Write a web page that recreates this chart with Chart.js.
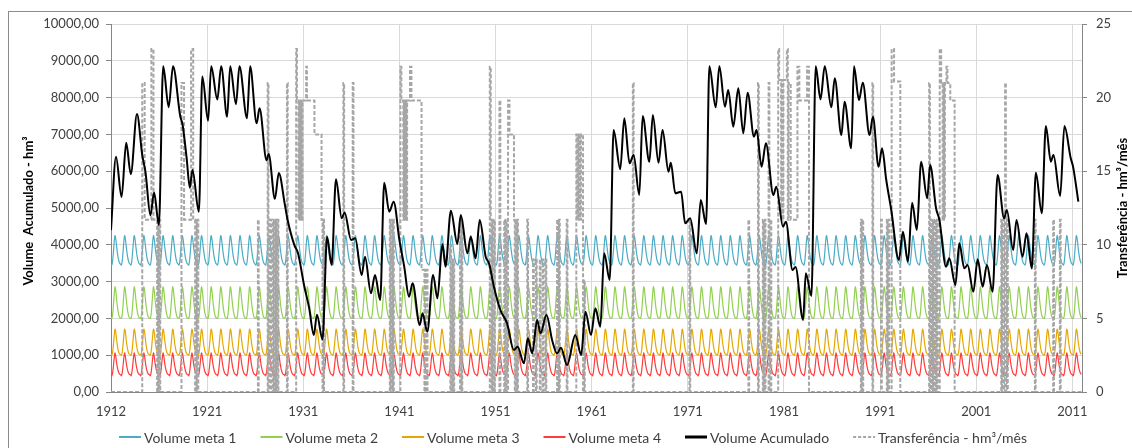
<!DOCTYPE html>
<html>
<head>
<meta charset="utf-8">
<script src="https://cdn.jsdelivr.net/npm/chart.js@4.4.1/dist/chart.umd.min.js"></script>
<style>
  html, body { margin: 0; padding: 0; background: #fff; }
  canvas { display: block; }
</style>
</head>
<body>
<canvas id="chart" width="1132" height="448"></canvas>
<script>
// ---- Axis labels (x = years counted from the start of the record) ----
const yearLabels   = ['1912', '1921', '1931', '1941', '1951', '1961', '1971', '1981', '1991', '2001', '2011'];
const yearTickPos  = [0, 10, 20, 30, 40, 50, 60, 70, 80, 90, 100];
const recordMonths = 1212;

// ---- Target volumes (hm³), one value per month of the hydrological year ----
const meta1Month = [3470, 3450, 3560, 3800, 4080, 4250, 4150, 3960, 3780, 3640, 3550, 3490];
const meta2Month = [2010, 2000, 2100, 2350, 2650, 2860, 2750, 2520, 2320, 2170, 2070, 2020];
const meta3Month = [1020, 1000, 1080, 1280, 1530, 1710, 1620, 1420, 1250, 1130, 1060, 1030];
const meta4Month = [470, 440, 520, 700, 920, 1060, 960, 790, 660, 570, 510, 480];

// ---- Accumulated volume (hm³) ----
const accYears = [
  0.0, 0.52, 1.1, 1.58, 2.06, 2.7, 3.25, 3.6, 4.1, 4.48, 4.98, 5.43, 6.0, 6.45, 7.2, 7.45, 7.87, 8.2, 8.47, 9.14,
  9.5, 10.1, 10.42, 11.06, 11.46, 12.08, 12.4, 13.0, 13.36, 14.15, 14.47, 15.15, 15.45, 16.18, 16.4, 17.05, 17.45, 18.08, 18.35, 19.1,
  19.45, 20.1, 20.6, 21.1, 21.42, 22.0, 22.48, 22.95, 23.4, 24.0, 24.3, 24.97, 25.4, 26.07, 26.42, 27.04, 27.46, 28.0, 28.42, 28.94,
  29.4, 30.0, 30.5, 31.0, 31.37, 32.12, 32.4, 32.9, 33.5, 33.95, 34.47, 34.8, 35.35, 36.03, 36.38, 37.07, 37.42, 37.93, 38.35, 38.97,
  39.32, 39.83, 40.5, 41.2, 41.9, 42.3, 42.95, 43.36, 43.81, 44.33, 44.67, 45.3, 45.88, 46.4, 46.8, 47.44, 48.3, 48.9, 49.35, 49.93,
  50.38, 50.9, 51.3, 51.87, 52.28, 52.97, 53.39, 53.94, 54.36, 54.95, 55.3, 56.0, 56.36, 56.95, 57.37, 57.99, 58.23, 58.7, 59.3, 59.72,
  60.24, 60.93, 61.34, 61.9, 62.24, 62.9, 63.28, 63.86, 64.2, 64.73, 65.25, 65.77, 66.22, 66.88, 67.15, 67.67, 68.12, 68.9, 69.2, 69.9,
  70.2, 70.89, 71.2, 71.99, 72.27, 72.86, 73.3, 73.8, 74.24, 74.93, 75.28, 75.97, 76.3, 77.0, 77.28, 77.8, 78.2, 78.9, 79.25, 79.84,
  80.2, 80.64, 81.16, 81.95, 82.37, 82.9, 83.33, 83.82, 84.27, 84.9, 85.2, 85.82, 86.17, 86.86, 87.2, 87.83, 88.24, 88.76, 89.1, 89.7,
  90.15, 90.67, 91.11, 91.7, 92.22, 92.9, 93.18, 93.84, 94.19, 94.82, 95.23, 95.78, 96.2, 96.82, 97.24, 97.76, 98.03, 98.73, 99.17, 99.83,
  100.07, 100.62
];
const accVolumes = [
  4400, 6390, 5300, 6770, 5920, 7554, 6440, 5950, 4800, 5420, 4540, 8850, 7740, 8850, 7500, 7255, 6350, 5550, 6033, 4900,
  8570, 7370, 8850, 7950, 8850, 7480, 8850, 7820, 8850, 7437, 8850, 7300, 7708, 6300, 6467, 5250, 5950, 5100, 4700, 3970,
  3780, 2880, 2300, 1550, 2100, 1430, 4220, 3450, 5780, 4720, 4880, 4130, 4176, 3179, 3677, 2681, 3179, 2500, 5688, 4900,
  5172, 4130, 3406, 2591, 2953, 1821, 2138, 1640, 3179, 2545, 4022, 3406, 4928, 4022, 4810, 3768, 4221, 3632, 4674, 3677,
  3496, 2862, 2228, 1866, 1141, 1232, 779, 1458, 1051, 1957, 1594, 2092, 1413, 1051, 1200, 734, 1549, 1005, 2183, 1549,
  2274, 1775, 3768, 3043, 7120, 6051, 7437, 6214, 6440, 5353, 7500, 6259, 7527, 6232, 7120, 5987, 6232, 5398, 5444, 4583,
  4719, 3768, 5217, 4565, 8850, 7735, 8850, 7753, 8206, 7210, 8252, 7029, 8134, 6938, 7120, 6123, 6757, 5353, 5580, 4493,
  4629, 3315, 3400, 1957, 3225, 2609, 8850, 7953, 8850, 7735, 8524, 6984, 7890, 6621, 8850, 7935, 8406, 6984, 7482, 6123,
  6621, 5761, 4946, 3587, 4357, 3542, 5145, 4402, 6259, 5263, 6168, 4991, 4674, 3406, 3632, 2908, 4040, 3360, 3451, 2726,
  3605, 2862, 3451, 2726, 5897, 4719, 4946, 3859, 4674, 3677, 4312, 3360, 5960, 4855, 7228, 6259, 6440, 5326, 7228, 6350,
  6123, 5172
];

// ---- Transfer (hm³/mês): [year, value], each value holds until the next entry ----
const transferSteps = [
  [0, 0],
  [3.25, 21], [3.5, 11.7], [4.2, 23.3], [4.42, 11.7], [4.8, 0], [4.88, 11.7], [4.96, 0], [5.04, 11.7], [5.12, 0],
  [7.33, 21], [7.6, 11.7], [8.33, 23.3], [8.55, 11.7], [8.75, 0], [8.83, 11.7], [8.92, 0], [9.0, 11.7], [9.08, 0],
  [15.28, 11.7], [15.36, 0], [16.3, 21], [16.38, 0], [16.56, 11.7], [16.64, 0], [16.84, 11.7], [16.92, 0],
  [17.0, 11.7], [17.08, 0], [17.16, 11.7], [17.25, 0], [17.33, 11.7], [17.41, 0],
  [18.3, 21], [18.38, 0],
  [19.26, 23.3], [19.34, 19.8], [19.5, 11.7], [19.58, 19.8], [19.66, 11.7], [19.75, 19.8], [19.83, 11.7], [19.92, 19.8],
  [20.3, 22.1], [20.38, 19.8], [21.16, 17.5], [21.9, 11.7], [22.0, 0], [22.08, 11.7], [22.16, 0],
  [24.17, 21], [24.25, 0], [25.14, 21], [25.22, 0],
  [29.0, 11.7], [29.08, 0], [29.17, 11.7], [29.25, 0], [29.33, 11.7], [29.42, 0],
  [30.1, 22.1], [30.2, 19.8], [30.4, 11.7], [30.48, 19.8], [30.56, 11.7], [30.64, 19.8], [30.72, 11.7], [30.8, 19.8],
  [31.1, 22.1], [31.25, 19.8], [32.3, 8.3], [32.6, 0], [32.68, 8.3], [32.76, 0], [32.84, 8.3], [32.92, 0],
  [35.3, 10], [35.38, 0], [35.46, 9], [35.54, 0], [35.62, 9], [35.7, 0],
  [36.3, 11.7], [36.38, 0], [36.46, 11.7], [36.54, 0],
  [39.4, 22.1], [39.5, 11.7], [39.58, 0], [39.66, 11.7], [39.75, 0], [39.83, 11.7], [39.92, 0],
  [40.4, 19.8], [40.5, 0], [40.9, 11.7], [40.98, 0], [41.06, 11.7], [41.14, 0],
  [41.3, 19.8], [41.45, 17.5], [41.92, 11.7], [42.0, 0], [42.08, 11.7], [42.16, 0], [42.25, 11.7], [42.33, 0],
  [43.3, 11.7], [43.38, 0],
  [43.9, 9], [43.98, 0], [44.2, 9], [44.28, 0], [44.6, 9], [44.68, 0], [44.9, 9], [44.98, 0], [45.2, 9], [45.28, 0],
  [46.4, 11.7], [46.48, 0], [46.6, 11.7], [46.68, 0], [47.4, 11.7], [47.48, 0],
  [48.4, 17.5], [48.48, 11.7], [48.56, 17.5], [48.64, 11.7], [48.72, 17.5], [48.8, 11.7], [48.88, 17.5], [49.1, 0],
  [49.2, 7.6], [49.28, 0],
  [54.28, 21], [54.36, 0],
  [60.17, 11.7], [60.25, 0],
  [66.3, 11.7], [66.38, 0],
  [67.3, 21], [67.38, 0],
  [67.8, 11.7], [67.88, 0], [68.0, 11.7], [68.08, 0], [68.4, 21], [68.48, 0], [68.6, 11.7], [68.68, 0],
  [69.4, 23.3], [69.5, 21.2], [69.7, 11.7], [69.78, 21.2], [69.86, 11.7], [69.94, 21.2], [70.3, 23.3], [70.4, 11.7],
  [70.48, 21], [70.7, 11.7], [71.4, 22.1], [71.6, 19.8], [72.4, 22.1], [72.6, 0],
  [78.0, 11.7], [78.08, 0], [78.16, 11.7], [78.24, 0],
  [79.2, 21], [79.28, 0],
  [80.1, 11.7], [80.18, 0], [80.7, 11.7], [80.78, 0], [80.86, 11.7], [80.94, 0],
  [81.2, 23.3], [81.45, 21.1], [82.1, 0],
  [85.1, 21], [85.18, 0], [85.3, 11.7], [85.38, 0], [85.5, 11.7], [85.58, 0], [85.7, 11.7], [85.78, 0], [85.9, 11.7], [85.98, 0],
  [86.2, 23.3], [86.35, 21], [86.5, 11.7], [86.58, 21], [86.66, 11.7], [86.74, 21], [86.9, 22.1], [87.0, 21], [87.3, 19.8], [87.75, 0],
  [92.6, 11.7], [92.68, 0], [92.8, 11.7], [92.88, 0], [93.0, 21], [93.08, 0], [93.2, 11.7], [93.28, 0],
  [96.1, 11.7], [96.18, 0],
  [98.0, 11.7], [98.08, 0], [98.7, 11.7], [98.78, 0],
  [101, 0]
];

// ---- Styling ----
const COLORS = {
  meta1: '#4bacc6',
  meta2: '#92d050',
  meta3: '#e5a800',
  meta4: '#ff3b3b',
  acc: '#000000',
  transfer: '#a6a6a6',
  grid: '#d9d9d9',
  axis: '#868686',
  text: '#404040'
};
const FONT = 'Lato, "Open Sans", sans-serif';

// monthly rule curve: the same annual target repeated for every year of the record
function ruleCurve(monthValues) {
  const pts = [];
  for (let m = 0; m < recordMonths; m++) pts.push({ x: m / 12, y: monthValues[m % 12] });
  return pts;
}
const accPoints = accYears.map((t, i) => ({ x: t, y: accVolumes[i] }));
const transferPoints = transferSteps.map(([t, v]) => ({ x: t, y: v }));

const legendItems = [
  { text: 'Volume meta 1', color: COLORS.meta1, width: 2, dash: [] },
  { text: 'Volume meta 2', color: COLORS.meta2, width: 2, dash: [] },
  { text: 'Volume meta 3', color: COLORS.meta3, width: 2, dash: [] },
  { text: 'Volume meta 4', color: COLORS.meta4, width: 2, dash: [] },
  { text: 'Volume Acumulado', color: COLORS.acc, width: 3, dash: [] },
  { text: 'Transferência - hm³/mês', color: COLORS.transfer, width: 2, dash: [3, 2] }
];

// white background + outer frame, axis titles, legend
const decorations = {
  id: 'decorations',
  beforeDraw(chart) {
    const ctx = chart.ctx;
    ctx.save();
    ctx.fillStyle = '#fff';
    ctx.fillRect(0, 0, chart.width, chart.height);
    ctx.strokeStyle = '#8c8c8c';
    ctx.lineWidth = 1;
    ctx.strokeRect(8.5, 11.5, 1200, 600);
    ctx.restore();
  },
  afterDraw(chart) {
    const ctx = chart.ctx;
    const area = chart.chartArea;
    const midY = (area.top + area.bottom) / 2;
    ctx.save();
    ctx.fillStyle = '#000';
    ctx.font = 'bold 13px ' + FONT;
    ctx.textAlign = 'center';
    ctx.textBaseline = 'middle';
    ctx.translate(29, midY + 3);
    ctx.rotate(-Math.PI / 2);
    ctx.fillText('Volume  Acumulado - hm³', 0, 0);
    ctx.restore();

    ctx.save();
    ctx.fillStyle = '#000';
    ctx.font = 'bold 13px ' + FONT;
    ctx.textAlign = 'center';
    ctx.textBaseline = 'middle';
    ctx.translate(1123, midY);
    ctx.rotate(-Math.PI / 2);
    ctx.fillText('Transferência - hm³/mês', 0, 0);
    ctx.restore();

    // legend
    ctx.save();
    ctx.font = '14px ' + FONT;
    ctx.textBaseline = 'middle';
    const sample = 22, gapText = 3, gapItem = 24;
    const widths = legendItems.map(it => ctx.measureText(it.text).width);
    let total = 0;
    widths.forEach((w, i) => { total += sample + gapText + w + (i < widths.length - 1 ? gapItem : 0); });
    let x = 573 - total / 2;
    const y = 437;
    legendItems.forEach((it, i) => {
      ctx.beginPath();
      ctx.strokeStyle = it.color;
      ctx.lineWidth = it.width;
      ctx.setLineDash(it.dash);
      ctx.moveTo(x, y);
      ctx.lineTo(x + sample, y);
      ctx.stroke();
      ctx.setLineDash([]);
      ctx.fillStyle = COLORS.text;
      ctx.fillText(it.text, x + sample + gapText, y + 1);
      x += sample + gapText + widths[i] + gapItem;
    });
    ctx.restore();
  }
};

function draw() {
  new Chart(document.getElementById('chart'), {
    type: 'line',
    data: {
      datasets: [
        { label: 'Volume Acumulado', data: accPoints, yAxisID: 'y', borderColor: COLORS.acc, borderWidth: 2,
          cubicInterpolationMode: 'monotone', order: 0 },
        { label: 'Transferência - hm³/mês', data: transferPoints, yAxisID: 'y2', borderColor: COLORS.transfer,
          borderWidth: 2, borderDash: [4, 2], stepped: true, order: 1 },
        { label: 'Volume meta 4', data: ruleCurve(meta4Month), yAxisID: 'y', borderColor: COLORS.meta4, borderWidth: 1.2,
          tension: 0.3, order: 2 },
        { label: 'Volume meta 3', data: ruleCurve(meta3Month), yAxisID: 'y', borderColor: COLORS.meta3, borderWidth: 1.2,
          tension: 0.3, order: 3 },
        { label: 'Volume meta 2', data: ruleCurve(meta2Month), yAxisID: 'y', borderColor: COLORS.meta2, borderWidth: 1.2,
          tension: 0.3, order: 4 },
        { label: 'Volume meta 1', data: ruleCurve(meta1Month), yAxisID: 'y', borderColor: COLORS.meta1, borderWidth: 1.2,
          tension: 0.3, order: 5 }
      ]
    },
    options: {
      responsive: false,
      animation: false,
      devicePixelRatio: 1,
      events: [],
      layout: { padding: { top: 24, bottom: 0, left: 0, right: 0 } },
      elements: { point: { radius: 0 } },
      plugins: { legend: { display: false }, tooltip: { enabled: false } },
      scales: {
        x: {
          type: 'linear',
          min: 0,
          max: 101,
          afterBuildTicks: s => { s.ticks = yearTickPos.map(v => ({ value: v })); },
          afterFit: s => { s.height = 56; },
          grid: { color: COLORS.grid, drawTicks: false },
          border: { color: COLORS.axis },
          ticks: {
            autoSkip: false, maxRotation: 0, padding: 12,
            color: COLORS.text, font: { family: FONT, size: 13 },
            callback: (v, i) => yearLabels[i]
          }
        },
        y: {
          position: 'left',
          min: 0,
          max: 10000,
          afterFit: s => { s.width = 111; },
          grid: { color: COLORS.grid, tickLength: 5, tickColor: COLORS.axis },
          border: { color: COLORS.axis },
          ticks: {
            stepSize: 1000, padding: 7,
            color: COLORS.text, font: { family: FONT, size: 13 },
            callback: v => v.toFixed(2).replace('.', ',')
          }
        },
        y2: {
          position: 'right',
          min: 0,
          max: 25,
          afterFit: s => { s.width = 50; },
          grid: { drawOnChartArea: false, tickLength: 5, tickColor: COLORS.axis },
          border: { color: COLORS.axis },
          ticks: {
            stepSize: 5, padding: 9,
            color: COLORS.text, font: { family: FONT, size: 13 }
          }
        }
      }
    },
    plugins: [decorations]
  });
}

if (document.fonts && document.fonts.load) {
  Promise.all([document.fonts.load('13px Lato'), document.fonts.load('bold 13px Lato')])
    .then(draw, draw);
} else {
  draw();
}
</script>
</body>
</html>
